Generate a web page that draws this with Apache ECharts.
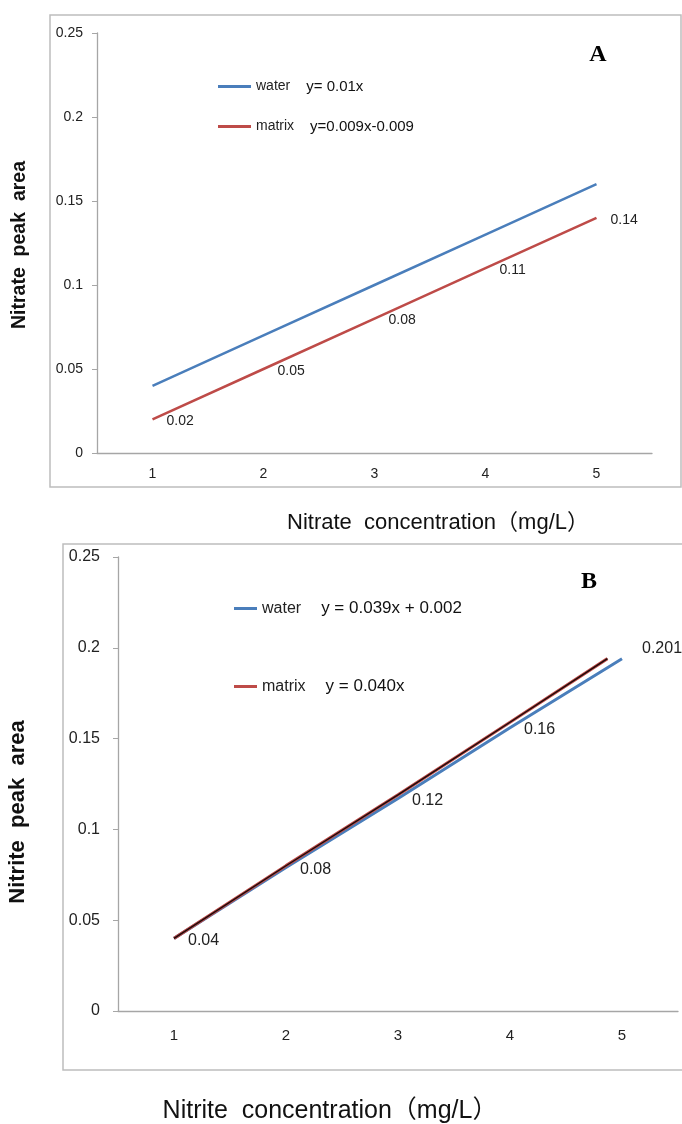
<!DOCTYPE html>
<html>
<head>
<meta charset="utf-8">
<script src="https://cdn.jsdelivr.net/npm/echarts@6/dist/echarts.min.js"></script>
<style>
  html, body { margin: 0; padding: 0; background: #fff; }
  #chart { width: 682px; height: 1124px; }
</style>
</head>
<body>
<div id="chart"></div>
<script>
// panel A - nitrate
var concentrations = ['1', '2', '3', '4', '5'];
var nitrateWater = [0.04, 0.07, 0.10, 0.13, 0.16];
var nitrateMatrix = [0.02, 0.05, 0.08, 0.11, 0.14];
var nitrateEquations = ['y= 0.01x', 'y=0.009x-0.009'];

// panel B - nitrite
var nitriteX = [1, 2, 3, 4, 5];
var nitriteWater = [0.040, 0.079, 0.117, 0.156, 0.194];
var nitriteMatrixX = [1, 2, 3, 4, 4.87];
var nitriteMatrix = [0.040, 0.080, 0.119, 0.159, 0.194];
var nitriteLabels = ['0.04', '0.08', '0.12', '0.16', '0.201'];
var nitriteEquations = ['y = 0.039x + 0.002', 'y = 0.040x'];

var seriesNames = ['water', 'matrix'];
var yTicks = [0, 0.25, 0.05]; // min, max, interval

var blue = '#4a7ebb', red = '#be4b48';
var axisGrey = '#a6a6a6';
var font = 'Liberation Sans';

var chart = echarts.init(document.getElementById('chart'));

function pairs(xs, ys) {
    return xs.map(function (x, i) { return [x, ys[i]]; });
}

function yAxisFor(gridIndex, size, margin) {
    return {
        type: 'value', gridIndex: gridIndex,
        min: yTicks[0], max: yTicks[1], interval: yTicks[2],
        axisLine: {show: true, lineStyle: {color: axisGrey, width: 1.3}},
        axisTick: {show: true, length: 5, lineStyle: {color: axisGrey}},
        splitLine: {show: false},
        axisLabel: {color: '#222', fontFamily: font, fontSize: size, margin: margin}
    };
}

function legendFor(top, left, iconW, gap, size, eqs, pad) {
    return {
        top: top, left: left, orient: 'vertical', padding: 0,
        data: seriesNames, icon: 'rect',
        itemWidth: iconW, itemHeight: 3, itemGap: gap,
        selectedMode: false,
        formatter: function (name) {
            return '{n|' + name + '}{e|' + eqs[seriesNames.indexOf(name)] + '}';
        },
        textStyle: {
            fontFamily: font, fontSize: size, color: '#222',
            rich: {
                n: {fontFamily: font, fontSize: size - 1, color: '#222', padding: [0, pad, 0, 0]},
                e: {fontFamily: font, fontSize: size, color: '#111'}
            }
        }
    };
}

var nitriteLabelData = pairs(nitriteX, nitriteWater).map(function (p, i) {
    var item = {value: p};
    if (i === nitriteX.length - 1) item.label = {offset: [6, -10]};
    return item;
});

// hidden markers so the point labels are drawn
var noMarker = {symbol: 'circle', symbolSize: 0, showSymbol: true};

var option = {
    animation: false,
    backgroundColor: '#fff',
    grid: [
        {left: 97, top: 33, width: 555, height: 420},
        {left: 118, top: 557, width: 560, height: 454}
    ],
    xAxis: [
        {
            type: 'category', gridIndex: 0, data: concentrations, boundaryGap: true,
            axisLine: {lineStyle: {color: axisGrey, width: 1.3}},
            axisTick: {length: 5, lineStyle: {color: axisGrey}},
            axisLabel: {color: '#222', fontFamily: font, fontSize: 14, margin: 14}
        },
        {
            type: 'category', gridIndex: 1, data: concentrations, boundaryGap: true,
            axisLine: {lineStyle: {color: axisGrey, width: 1.3}},
            axisTick: {length: 5, lineStyle: {color: axisGrey}},
            axisLabel: {color: '#222', fontFamily: font, fontSize: 15, margin: 17}
        },
        {type: 'value', gridIndex: 1, min: 0.5, max: 5.5, show: false}
    ],
    yAxis: [yAxisFor(0, 14, 14), yAxisFor(1, 16, 18)],
    legend: [
        legendFor(79, 218, 33, 25, 15, nitrateEquations, 16),
        legendFor(600, 234, 23, 61, 17, nitriteEquations, 20)
    ],
    series: [
        Object.assign({
            name: 'water', type: 'line', xAxisIndex: 0, yAxisIndex: 0,
            data: nitrateWater, color: blue,
            lineStyle: {width: 2.5}
        }, noMarker),
        Object.assign({
            name: 'matrix', type: 'line', xAxisIndex: 0, yAxisIndex: 0,
            data: nitrateMatrix, color: red,
            lineStyle: {width: 2.5},
            label: {
                show: true, position: 'right', distance: 14, offset: [0, 2],
                fontFamily: font, fontSize: 14, color: '#222'
            }
        }, noMarker),
        Object.assign({
            name: 'water', type: 'line', xAxisIndex: 2, yAxisIndex: 1,
            data: nitriteLabelData, color: blue,
            lineStyle: {width: 3},
            label: {
                show: true, position: 'right', distance: 14, offset: [0, 2],
                fontFamily: font, fontSize: 16, color: '#222',
                formatter: function (p) { return nitriteLabels[p.dataIndex]; }
            }
        }, noMarker),
        {
            name: 'matrix', type: 'line', xAxisIndex: 2, yAxisIndex: 1,
            data: pairs(nitriteMatrixX, nitriteMatrix), showSymbol: false, color: red,
            lineStyle: {width: 3.2}
        },
        {
            name: 'trend', type: 'line', xAxisIndex: 2, yAxisIndex: 1,
            data: pairs(nitriteMatrixX, nitriteMatrix), showSymbol: false, color: '#1a0a0a',
            lineStyle: {width: 1.4}
        }
    ],
    graphic: [
        {type: 'rect', shape: {x: 50, y: 15, width: 631, height: 472}, style: {fill: null, stroke: '#bdbdbd', lineWidth: 1.5}, silent: true},
        {type: 'rect', shape: {x: 63, y: 544, width: 640, height: 526}, style: {fill: null, stroke: '#bdbdbd', lineWidth: 1.5}, silent: true},
        {type: 'text', x: 598, y: 55, style: {text: 'A', font: 'bold 24px "Liberation Serif"', fill: '#000', align: 'center', verticalAlign: 'middle'}},
        {type: 'text', x: 589, y: 582, style: {text: 'B', font: 'bold 24px "Liberation Serif"', fill: '#000', align: 'center', verticalAlign: 'middle'}},
        {type: 'text', x: 438, y: 523, style: {text: 'Nitrate  concentration（mg/L）', font: '22px "Liberation Sans", "Noto Sans CJK KR"', fill: '#111', align: 'center', verticalAlign: 'middle'}},
        {type: 'text', x: 330, y: 1111, style: {text: 'Nitrite  concentration（mg/L）', font: '25px "Liberation Sans", "Noto Sans CJK KR"', fill: '#111', align: 'center', verticalAlign: 'middle'}},
        {type: 'text', x: 20, y: 245, rotation: Math.PI / 2, style: {text: 'Nitrate  peak  area', font: 'bold 19.5px "Liberation Sans"', fill: '#111', align: 'center', verticalAlign: 'middle'}},
        {type: 'text', x: 18, y: 812, rotation: Math.PI / 2, style: {text: 'Nitrite  peak  area', font: 'bold 22px "Liberation Sans"', fill: '#111', align: 'center', verticalAlign: 'middle'}}
    ]
};

chart.setOption(option);
</script>
</body>
</html>
